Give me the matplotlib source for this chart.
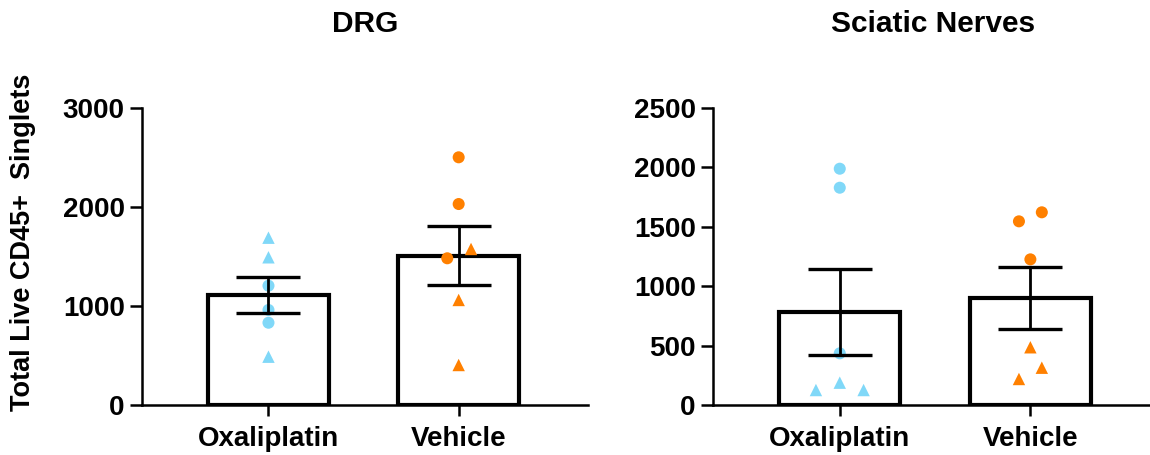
import numpy as np
import matplotlib
matplotlib.use("Agg")
import matplotlib.pyplot as plt

plt.rcParams['font.family'] = ['Liberation Sans', 'DejaVu Sans']
plt.rcParams['font.weight'] = 'bold'

groups = ["Oxaliplatin", "Vehicle"]
titles = ["DRG", "Sciatic Nerves"]
ylabel = "Total Live CD45+  Singlets"

# DRG
drg_oxa_circles = [1205, 960, 831]
drg_oxa_triangles = [1690, 1492, 488]
drg_veh_circles = [2502, 2030, 1482]
drg_veh_triangles = [1576, 1061, 404]
# Sciatic nerves
sn_oxa_circles = [1989, 1829, 435]
sn_oxa_triangles = [126, 188, 126]
sn_veh_circles = [1546, 1622, 1226]
sn_veh_triangles = [486, 314, 219]

drg_yticks = [0, 1000, 2000, 3000]
sn_yticks = [0, 500, 1000, 1500, 2000, 2500]

# horizontal jitter (presentation only)
jit = {
    ("drg", 0, "c"): [0, 0, 0], ("drg", 0, "t"): [0, 0, 0],
    ("drg", 1, "c"): [0, 0, -0.06], ("drg", 1, "t"): [0.065, 0, 0],
    ("sn", 0, "c"): [0, 0, 0], ("sn", 0, "t"): [-0.125, 0, 0.125],
    ("sn", 1, "c"): [-0.06, 0.06, 0], ("sn", 1, "t"): [0, 0.06, -0.06],
}

colors = ["#80D8F8", "#FF8000"]

W, H = 1150, 455
fig = plt.figure(figsize=(W / 100, H / 100), dpi=100)

panels = [
    ("drg", [(drg_oxa_circles, drg_oxa_triangles), (drg_veh_circles, drg_veh_triangles)],
     drg_yticks, 3000, 142, 588),
    ("sn", [(sn_oxa_circles, sn_oxa_triangles), (sn_veh_circles, sn_veh_triangles)],
     sn_yticks, 2500, 713, 1160),
]

for pi, (key, data, yt, ymax, x0, x1) in enumerate(panels):
    ax = fig.add_axes([x0 / W, (H - 405) / H, (x1 - x0) / W, 297 / H])
    ax.set_xlim(-0.665, 1.68)
    ax.set_ylim(0, ymax)
    for gi, (circ, tri) in enumerate(data):
        vals = np.array(list(circ) + list(tri), dtype=float)
        mean = vals.mean()
        sem = vals.std(ddof=1) / np.sqrt(len(vals))
        ax.bar(gi, mean, width=0.635, facecolor="white", edgecolor="black",
               linewidth=3.0, zorder=1)
        ax.scatter(np.array(jit[(key, gi, "c")]) + gi, circ, marker="o", s=75,
                   color=colors[gi], edgecolors="none", zorder=3, clip_on=False)
        ax.scatter(np.array(jit[(key, gi, "t")]) + gi, tri, marker="^", s=80,
                   color=colors[gi], edgecolors="none", zorder=3, clip_on=False)
        ax.errorbar(gi, mean, yerr=sem, fmt="none", ecolor="black",
                    elinewidth=2.0, capsize=23, capthick=2.4, zorder=4)
    for s in ["top", "right"]:
        ax.spines[s].set_visible(False)
    ax.spines["left"].set_linewidth(1.8)
    ax.spines["bottom"].set_linewidth(1.8)
    ax.set_yticks(yt)
    ax.set_yticklabels([str(v) for v in yt], fontsize=20, fontweight="bold")
    ax.set_xticks([0, 1])
    ax.set_xticklabels(groups, fontsize=20, fontweight="bold")
    ax.tick_params(axis="y", length=8.5, width=1.8, pad=4)
    ax.tick_params(axis="x", length=8, width=1.8, pad=7)
    cx = (x0 + x1) / 2 if pi == 0 else 933
    fig.text(cx / W, 1 - 24 / H, titles[pi], ha="center", va="center",
             fontsize=21.5, fontweight="bold")

fig.text(23 / W, 1 - 242 / H, ylabel, rotation=90, ha="center", va="center",
         fontsize=19.5, fontweight="bold")

fig.savefig("out.png", dpi=100, facecolor="white")
